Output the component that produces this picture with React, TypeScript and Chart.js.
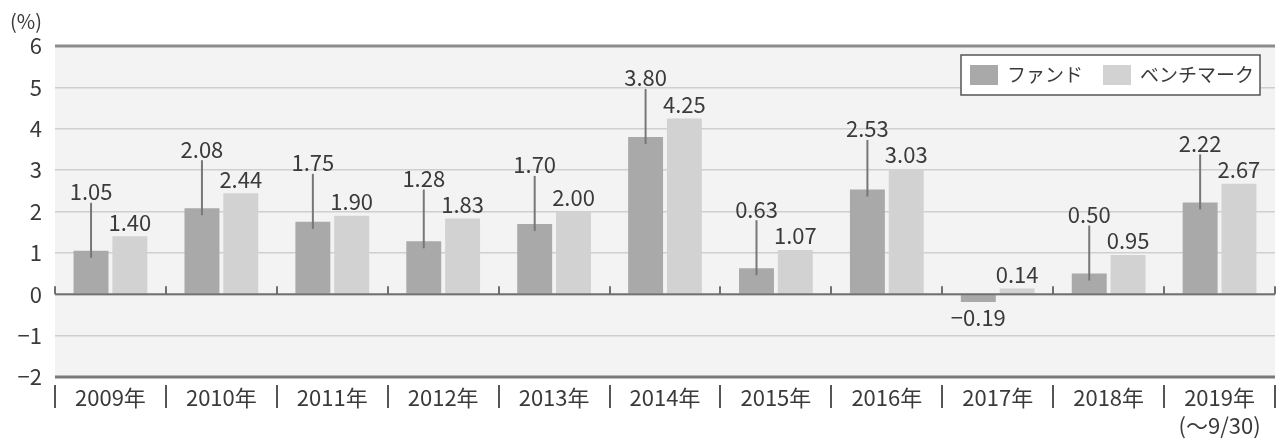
import React, { useEffect, useRef } from "react";
import { Chart, registerables } from "chart.js";

Chart.register(...registerables);

const years = ["2009年", "2010年", "2011年", "2012年", "2013年", "2014年", "2015年", "2016年", "2017年", "2018年", "2019年"];
const yearNotes = ["", "", "", "", "", "", "", "", "", "", "(～9/30)"];
const fundValues = [1.05, 2.08, 1.75, 1.28, 1.7, 3.8, 0.63, 2.53, -0.19, 0.5, 2.22];
const benchmarkValues = [1.4, 2.44, 1.9, 1.83, 2.0, 4.25, 1.07, 3.03, 0.14, 0.95, 2.67];
const seriesNames = ["ファンド", "ベンチマーク"];
const yMin = -2;
const yMax = 6;
const yStep = 1;
const unitLabel = "(%)";

const FONT = '"Noto Sans CJK JP", "Noto Sans", sans-serif';
const FUND_COLOR = "#a9a9a9";
const BENCH_COLOR = "#d2d2d2";
const TEXT_COLOR = "#3a3a3a";

const fmt = (v: number) => (v < 0 ? "−" : "") + Math.abs(v).toFixed(2);

const decorPlugin = {
  id: "decor",
  beforeDraw(chart: any) {
    const { ctx, chartArea: a } = chart;
    ctx.save();
    ctx.fillStyle = "#f3f3f3";
    ctx.fillRect(a.left, a.top, a.right - a.left, a.bottom - a.top);
    ctx.restore();
  },
  afterDatasetsDraw(chart: any) {
    const { ctx, chartArea: a } = chart;
    const ys = chart.scales.y;
    const xs = chart.scales.x;
    const zero = ys.getPixelForValue(0);
    ctx.save();
    const hline = (yy: number, color: string, w: number) => {
      ctx.strokeStyle = color;
      ctx.lineWidth = w;
      ctx.beginPath();
      ctx.moveTo(a.left, yy);
      ctx.lineTo(a.right, yy);
      ctx.stroke();
    };
    hline(ys.getPixelForValue(yMax), "#8c8c8c", 3);
    hline(ys.getPixelForValue(yMin), "#7a7a7a", 3);
    hline(zero, "#707070", 2);
    const n = years.length;
    ctx.lineWidth = 2;
    for (let i = 0; i <= n; i++) {
      const bx = Math.round(a.left + ((a.right - a.left) * i) / n);
      ctx.strokeStyle = "#707070";
      ctx.beginPath();
      ctx.moveTo(bx, zero - 8);
      ctx.lineTo(bx, zero);
      ctx.stroke();
      ctx.strokeStyle = "#555";
      ctx.beginPath();
      ctx.moveTo(bx, a.bottom + 8);
      ctx.lineTo(bx, a.bottom + 31);
      ctx.stroke();
    }
    const m0 = chart.getDatasetMeta(0);
    const m1 = chart.getDatasetMeta(1);
    ctx.font = `22px ${FONT}`;
    ctx.fillStyle = TEXT_COLOR;
    ctx.textAlign = "center";
    ctx.textBaseline = "middle";
    for (let i = 0; i < n; i++) {
      const b = m1.data[i];
      const bv = benchmarkValues[i];
      const bly = bv >= 0 ? b.y - 14 : b.y + 16;
      ctx.fillText(fmt(bv), b.x, bly);
      const f = m0.data[i];
      const fv = fundValues[i];
      if (fv >= 0) {
        const fly = Math.min(f.y - 59, bly - 26);
        ctx.fillText(fmt(fv), f.x, fly);
        ctx.strokeStyle = "#777";
        ctx.lineWidth = 2;
        ctx.beginPath();
        ctx.moveTo(f.x, fly + 11);
        ctx.lineTo(f.x, f.y + 7);
        ctx.stroke();
      } else {
        ctx.fillText(fmt(fv), f.x, f.y + 16);
      }
    }
    ctx.font = `22px ${FONT}`;
    ctx.fillStyle = TEXT_COLOR;
    for (let i = 0; i < n; i++) {
      const cx = xs.getPixelForValue(i);
      ctx.fillText(years[i], cx, a.bottom + 21);
      if (yearNotes[i]) ctx.fillText(yearNotes[i], cx, a.bottom + 49);
    }
    ctx.restore();
  },
  afterDraw(chart: any) {
    const { ctx, chartArea: a } = chart;
    ctx.save();
    ctx.font = `20px ${FONT}`;
    ctx.fillStyle = TEXT_COLOR;
    ctx.textAlign = "center";
    ctx.textBaseline = "middle";
    ctx.fillText(unitLabel, 26, 21);
    ctx.font = `19px ${FONT}`;
    const colors = [FUND_COLOR, BENCH_COLOR];
    const widths = seriesNames.map((s) => ctx.measureText(s).width);
    const sq = 28, sqH = 20, gapT = 9, gapI = 20, padL = 9, padR = 6;
    const total = padL + sq + gapT + widths[0] + gapI + sq + gapT + widths[1] + padR;
    const right = a.right - 15;
    const left = right - total;
    const top = a.top + 9;
    const h = 40;
    ctx.fillStyle = "#ffffff";
    ctx.fillRect(left, top, total, h);
    ctx.strokeStyle = "#555";
    ctx.lineWidth = 1.5;
    ctx.strokeRect(left, top, total, h);
    let x = left + padL;
    const cy = top + h / 2;
    ctx.textAlign = "left";
    for (let i = 0; i < seriesNames.length; i++) {
      ctx.fillStyle = colors[i];
      ctx.fillRect(x, cy - sqH / 2, sq, sqH);
      x += sq + gapT;
      ctx.fillStyle = TEXT_COLOR;
      ctx.fillText(seriesNames[i], x, cy);
      x += widths[i] + gapI;
    }
    ctx.restore();
  },
};

export default function App() {
  const ref = useRef<HTMLCanvasElement | null>(null);
  useEffect(() => {
    if (!ref.current) return;
    const chart = new Chart(ref.current, {
      type: "bar",
      data: {
        labels: years,
        datasets: [
          { label: seriesNames[0], data: fundValues, backgroundColor: FUND_COLOR, borderWidth: 0 },
          { label: seriesNames[1], data: benchmarkValues, backgroundColor: BENCH_COLOR, borderWidth: 0 },
        ],
      },
      options: {
        animation: false,
        responsive: false,
        maintainAspectRatio: false,
        layout: { padding: { top: 46, right: 8, left: 0, bottom: 0 } },
        datasets: { bar: { categoryPercentage: 0.7, barPercentage: 0.9 } },
        plugins: { legend: { display: false }, tooltip: { enabled: false } },
        scales: {
          x: {
            grid: { display: false },
            border: { display: false },
            ticks: { display: false },
            afterFit: (s: any) => {
              s.height = 62;
            },
          },
          y: {
            min: yMin,
            max: yMax,
            ticks: {
              stepSize: yStep,
              padding: 13,
              color: TEXT_COLOR,
              font: { family: FONT, size: 22 },
              callback: (v: any) => (Number(v) < 0 ? "−" + Math.abs(Number(v)) : String(v)),
            },
            grid: { color: "#cfcfcf", lineWidth: 1.5, drawTicks: false },
            border: { display: false },
            afterFit: (s: any) => {
              s.width = 55;
            },
          },
        },
      },
      plugins: [decorPlugin],
    });
    return () => chart.destroy();
  }, []);
  return (
    <div style={{ position: "absolute", left: 0, top: 0, width: 1283, height: 439, background: "#fff" }}>
      <canvas ref={ref} width={1283} height={439} style={{ display: "block" }} />
    </div>
  );
}
